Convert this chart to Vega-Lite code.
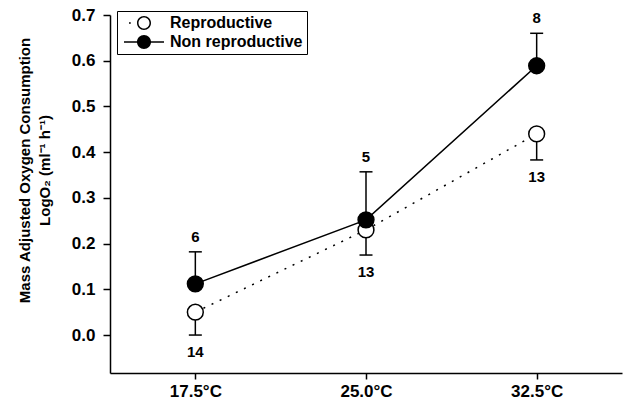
{
  "$schema": "https://vega.github.io/schema/vega-lite/v6.json",
  "autosize": {"type": "none"},
  "padding": {"left": 110, "top": 15, "right": 2, "bottom": 36},
  "width": 512,
  "height": 358,
  "background": "white",
  "config": {
    "view": {"stroke": null},
    "font": "Liberation Sans",
    "axis": {
      "grid": false,
      "domainColor": "black",
      "domainWidth": 1.5,
      "tickColor": "black",
      "tickWidth": 1.5,
      "labelColor": "black",
      "labelFont": "Liberation Sans",
      "labelFontWeight": "bold",
      "labelFontSize": 17,
      "titleColor": "black",
      "titleFont": "Liberation Sans",
      "titleFontWeight": "bold",
      "titleFontSize": 15
    }
  },
  "data": {
    "values": [
      {"temp": 17.5, "group": "Reproductive", "mean": 0.05, "err": 0.0, "n": 14},
      {"temp": 25.0, "group": "Reproductive", "mean": 0.23, "err": 0.175, "n": 13},
      {"temp": 32.5, "group": "Reproductive", "mean": 0.44, "err": 0.383, "n": 13},
      {"temp": 17.5, "group": "Non reproductive", "mean": 0.112, "err": 0.182, "n": 6},
      {"temp": 25.0, "group": "Non reproductive", "mean": 0.252, "err": 0.357, "n": 5},
      {"temp": 32.5, "group": "Non reproductive", "mean": 0.589, "err": 0.66, "n": 8}
    ]
  },
  "encoding": {
    "x": {
      "field": "temp",
      "type": "quantitative",
      "scale": {"domain": [13.75, 36.25], "nice": false, "zero": false},
      "axis": {
        "title": null,
        "values": [17.5, 25, 32.5],
        "labelExpr": "format(datum.value, '.1f') + '°C'",
        "tickSize": 6,
        "labelPadding": 4
      }
    }
  },
  "layer": [
    {
      "mark": {"type": "rule", "color": "black", "strokeWidth": 1.5},
      "encoding": {
        "y": {
          "field": "mean",
          "type": "quantitative",
          "scale": {"domain": [-0.083, 0.7], "nice": false, "zero": false},
          "axis": {
            "title": ["Mass Adjusted Oxygen Consumption", "LogO₂ (ml⁻¹ h⁻¹)"],
            "values": [0, 0.1, 0.2, 0.3, 0.4, 0.5, 0.6, 0.7],
            "format": ".1f",
            "tickSize": 7,
            "labelPadding": 8,
            "titleX": -81,
            "titleY": 155,
            "titleAngle": 270,
            "titleAlign": "center",
            "titleBaseline": "alphabetic",
            "titleLineHeight": 20
          }
        },
        "y2": {"field": "err"}
      }
    },
    {
      "mark": {"type": "tick", "orient": "horizontal", "color": "black", "size": 13, "thickness": 1.5, "opacity": 1},
      "encoding": {
        "y": {"field": "err", "type": "quantitative"}
      }
    },
    {
      "transform": [{"filter": "datum.group === 'Reproductive'"}],
      "mark": {"type": "line", "color": "black", "strokeWidth": 1.5, "strokeDash": [2, 7]},
      "encoding": {
        "y": {"field": "mean", "type": "quantitative"}
      }
    },
    {
      "transform": [{"filter": "datum.group === 'Non reproductive'"}],
      "mark": {"type": "line", "color": "black", "strokeWidth": 1.5},
      "encoding": {
        "y": {"field": "mean", "type": "quantitative"}
      }
    },
    {
      "transform": [{"filter": "datum.n < 0"}],
      "mark": {"type": "point", "filled": true, "fill": "black", "strokeWidth": 0, "size": 196, "opacity": 1},
      "encoding": {
        "y": {"field": "mean", "type": "quantitative"},
        "shape": {
          "field": "group",
          "type": "nominal",
          "scale": {
            "domain": ["Reproductive", "Non reproductive"],
            "range": [
              "M0,-0.12 L0.25,-0.12 L0.25,0.12 L0,0.12 Z M1.143,0 A1,1 0 1,1 3.143,0 A1,1 0 1,1 1.143,0 Z M1.357,0 A0.786,0.786 0 1,0 2.929,0 A0.786,0.786 0 1,0 1.357,0 Z",
              "M-0.714,-0.1 L1.2,-0.1 L1.2,0.1 L-0.714,0.1 Z M3.08,-0.1 L5.0,-0.1 L5.0,0.1 L3.08,0.1 Z M1.143,0 A1,1 0 1,1 3.143,0 A1,1 0 1,1 1.143,0 Z"
            ]
          },
          "legend": {
            "title": null,
            "orient": "none",
            "legendX": 7,
            "legendY": -4,
            "strokeColor": "black",
            "padding": 4,
            "labelFont": "Liberation Sans",
            "labelFontWeight": "bold",
            "labelFontSize": 16,
            "labelColor": "black",
            "labelOffset": 33,
            "rowPadding": 3,
            "symbolFillColor": "black",
            "symbolStrokeWidth": 0,
            "symbolSize": 196,
            "symbolOpacity": 1
          }
        }
      }
    },
    {
      "mark": {"type": "point", "shape": "circle", "filled": true, "stroke": "black", "strokeWidth": 1.5, "size": 250, "opacity": 1},
      "encoding": {
        "y": {"field": "mean", "type": "quantitative"},
        "fill": {
          "condition": {"test": "datum.group === 'Non reproductive'", "value": "black"},
          "value": "white"
        }
      }
    },
    {
      "transform": [{"filter": "datum.group === 'Non reproductive'"}],
      "mark": {"type": "text", "font": "Liberation Sans", "fontWeight": "bold", "fontSize": 15, "color": "black", "dy": -15, "baseline": "middle"},
      "encoding": {
        "y": {"field": "err", "type": "quantitative"},
        "text": {"field": "n", "type": "quantitative"}
      }
    },
    {
      "transform": [{"filter": "datum.group === 'Reproductive'"}],
      "mark": {"type": "text", "font": "Liberation Sans", "fontWeight": "bold", "fontSize": 15, "color": "black", "dy": 17, "baseline": "middle"},
      "encoding": {
        "y": {"field": "err", "type": "quantitative"},
        "text": {"field": "n", "type": "quantitative"}
      }
    }
  ]
}
